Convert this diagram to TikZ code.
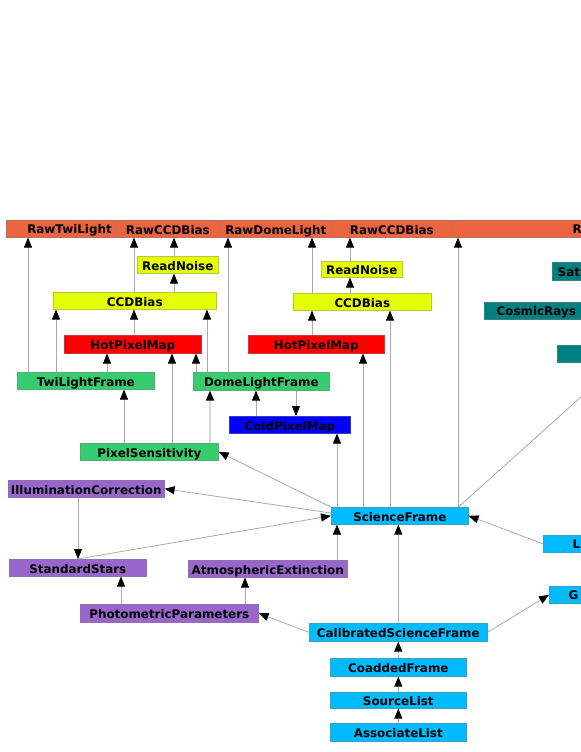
\documentclass[tikz,border=0pt]{standalone}
\usepackage{fontspec}
\setmainfont{DejaVu Sans}
\usetikzlibrary{arrows.meta,calc}
\definecolor{cOr}{RGB}{234,100,64}
\definecolor{cYe}{RGB}{230,255,0}
\definecolor{cRe}{RGB}{255,0,0}
\definecolor{cGr}{RGB}{55,205,110}
\definecolor{cBl}{RGB}{0,0,255}
\definecolor{cPu}{RGB}{153,102,204}
\definecolor{cCy}{RGB}{0,187,255}
\definecolor{cTe}{RGB}{0,128,128}
\definecolor{cEdge}{RGB}{170,170,170}
\tikzset{
  txt/.style={inner sep=0pt, font=\bfseries\fontsize{11.9bp}{12bp}\selectfont, text=black, text height=11bp, text depth=0.5bp},
  box/.style={txt, draw=#1!55!gray, fill=#1, line width=0.6bp, anchor=north west},
  sz/.style 2 args={minimum width=#1bp, minimum height=#2bp},
  edge/.style={draw=cEdge, line width=0.8bp, -{Triangle[length=10bp,width=8bp,color=black]}},
  plain/.style={draw=cEdge, line width=0.8bp}
}
\begin{document}
\begin{tikzpicture}[x=1bp,y=-1bp]
\useasboundingbox (0,0) rectangle (581,752);
\clip (0,0) rectangle (581,752);
% top bar
\node[box=cOr, sz={109}{17}] (raw1) at (6,220) {};
\node[box=cOr, sz={105}{17}] (raw2) at (115,220) {RawCCDBias};
\node[box=cOr, sz={111}{17}] (raw3) at (220,220) {RawDomeLight};
\node[box=cOr, sz={121}{17}] (raw4) at (331,220) {RawCCDBias};
\node[box=cOr, sz={300}{17}] (raw5) at (452,220) {};
\node[txt] (raw1t) at (69.5,228.5) {RawTwiLight};
\node[txt, anchor=west] (raw5t) at (572.5,228.5) {R};
% left cluster
\node[box=cYe, sz={81}{17}] (rn1) at (137,256) {ReadNoise};
\node[box=cYe, sz={163}{17}] (cb1) at (53,292) {CCDBias};
\node[box=cRe, sz={137}{18}] (hp1) at (64,335) {HotPixelMap};
\node[box=cGr, sz={137}{17}] (tw) at (17,372) {TwiLightFrame};
\node[box=cGr, sz={136}{18}] (dl) at (193,372) {DomeLightFrame};
\node[box=cBl, sz={121}{17}] (cp) at (229,416) {ColdPixelMap};
% right cluster
\node[box=cYe, sz={81}{16}] (rn2) at (321,261) {ReadNoise};
\node[box=cYe, sz={138}{17}] (cb2) at (293,293) {CCDBias};
\node[box=cRe, sz={136}{18}] (hp2) at (248,335) {HotPixelMap};
% teal boxes clipped
\node[box=cTe, sz={200}{18}] (sat) at (552,262) {};
\node[txt, anchor=west] (satt) at (557.5,271) {Sat};
\node[box=cTe, sz={200}{17}] (cr) at (484,302) {};
\node[txt, anchor=west] (crt) at (496.5,310.5) {CosmicRays};
\node[box=cTe, sz={200}{17}] (te3) at (557,345) {};
% middle
\node[box=cGr, sz={138}{17}] (ps) at (80,443) {PixelSensitivity};
\node[box=cPu, sz={156}{17}] (ic) at (8,480) {IlluminationCorrection};
\node[box=cPu, sz={137}{17}] (ss) at (9,559) {StandardStars};
\node[box=cPu, sz={159}{17}] (ae) at (188,560) {AtmosphericExtinction};
\node[box=cCy, sz={137}{17}] (sf) at (331,507) {ScienceFrame};
\node[box=cCy, sz={200}{17}] (l) at (543,535) {};
\node[txt, anchor=west] (lt) at (572.5,543.5) {L};
\node[box=cCy, sz={200}{17}] (g) at (549,586) {};
\node[txt, anchor=west] (gt) at (568.5,594.5) {G};
\node[box=cPu, sz={178}{18}] (pp) at (80,604) {PhotometricParameters};
\node[box=cCy, sz={178}{18}] (csf) at (309,623) {CalibratedScienceFrame};
\node[box=cCy, sz={136}{18}] (co) at (330,658) {CoaddedFrame};
\node[box=cCy, sz={136}{16}] (sl) at (330,692) {SourceList};
\node[box=cCy, sz={136}{18}] (al) at (330,723) {AssociateList};
% edges, left cluster
\draw[edge] (tw.north -| 28,0) -- (raw1.south -| 28,0);
\draw[edge] (tw.north -| 56,0) -- (cb1.south -| 56,0);
\draw[edge] (tw.north -| 107,0) -- (hp1.south -| 107,0);
\draw[edge] (hp1.north -| 134,0) -- (cb1.south -| 134,0);
\draw[edge] (cb1.north -| 134,0) -- (raw2.south -| 134,0);
\draw[edge] (cb1.north -| 174,0) -- (rn1.south -| 174,0);
\draw[edge] (rn1.north -| 174,0) -- (raw2.south -| 174,0);
\draw[edge] (dl.north -| 207,0) -- (cb1.south -| 207,0);
\draw[edge] (dl.north -| 196,0) -- (hp1.south -| 196,0);
\draw[edge] (dl.north -| 228,0) -- (raw3.south -| 228,0);
\draw[edge] (ps.north -| 124,0) -- (tw.south -| 124,0);
\draw[edge] (ps.north -| 172,0) -- (hp1.south -| 172,0);
\draw[edge, draw=black!15, line width=1.8bp] (ps.north -| 210,0) -- (dl.south -| 210,0);
\draw[edge] (cp.north -| 256,0) -- (dl.south -| 256,0);
\draw[edge] (dl.south -| 296,0) -- (cp.north -| 296,0);
% right cluster
\draw[edge] (cb2.north -| 312,0) -- (raw3.south -| 312,0);
\draw[edge] (hp2.north -| 312,0) -- (cb2.south -| 312,0);
\draw[edge] (rn2.north -| 350,0) -- (raw4.south -| 350,0);
\draw[edge] (cb2.north -| 350,0) -- (rn2.south -| 350,0);
\draw[edge] (sf.north -| 363,0) -- (hp2.south -| 363,0);
\draw[edge] (sf.north -| 390,0) -- (cb2.south -| 390,0);
\draw[edge] (sf.north -| 458,0) -- (raw5.south -| 458,0);
\draw[edge] (sf.north -| 337,0) -- (cp.south -| 337,0);
\coordinate (offr) at (582,396);
\draw[plain] (sf.north -| 458.5,0) -- (offr);
% science frame fan
\draw[edge] (sf.north west) -- (ps.east);
\draw[edge] (sf.west |- 0,513) -- (ic.east);
\draw[edge] (ss.north) -- (sf.west);
\draw[edge] (ic.south -| 78,0) -- (ss.north -| 78,0);
\draw[edge] (ae.north -| 337,0) -- (sf.south -| 337,0);
\draw[edge] (csf.north) -- (csf.north |- sf.south);
\draw[edge] (l.west) -- (sf.east);
% bottom
\draw[edge] (csf.west) -- (pp.east);
\draw[edge] (pp.north -| 121,0) -- (ss.south -| 121,0);
\draw[edge] (pp.north -| 245,0) -- (ae.south -| 245,0);
\draw[edge] (csf.east) -- (g.west);
\draw[edge] (co.north) -- (csf.south);
\draw[edge] (sl.north) -- (co.south);
\draw[edge] (al.north) -- (sl.south);
\end{tikzpicture}
\end{document}
